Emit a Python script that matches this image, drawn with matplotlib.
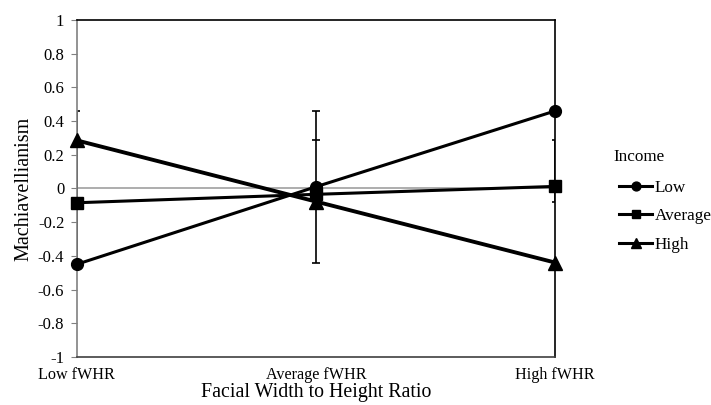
import matplotlib.pyplot as plt

plt.rcParams['font.family'] = ['Liberation Serif', 'DejaVu Serif']

# categories and series values
conditions = ['Low fWHR', 'Average fWHR', 'High fWHR']
low_income = [-0.45, 0.01, 0.46]
avg_income = [-0.085, -0.035, 0.012]
high_income = [0.285, -0.078, -0.44]

# error bar ends (bottom, top) at each condition
err_bottom = [-0.45, -0.44, -0.083]
err_top = [0.46, 0.46, 0.285]
err_mid_cap = [None, 0.29, None]

fig = plt.figure(figsize=(7.11, 4.05), dpi=100)
ax = fig.add_axes([0.108, 0.1185, 0.673, 0.8325])

x = list(range(len(conditions)))

ax.axhline(0, color='#a0a0a0', lw=1.2, zorder=1)

# error bars
for xi, b, t, m in zip(x, err_bottom, err_top, err_mid_cap):
    ax.vlines(xi, b, t, color='black', lw=1.2, zorder=2)
    caps = [b, t] + ([m] if m is not None else [])
    ax.hlines(caps, xi - 0.015, xi + 0.015, color='black', lw=1.2, zorder=2)

ax.plot(x, low_income, color='black', lw=2.2, marker='o', ms=8.5, label='Low', zorder=4, clip_on=False)
ax.plot(x, avg_income, color='black', lw=2.2, marker='s', ms=8.5, label='Average', zorder=4, clip_on=False)
ax.plot(x, high_income, color='black', lw=2.8, marker='^', ms=9.5, label='High', zorder=4, clip_on=False)

ax.set_xlim(0, 2)
ax.set_ylim(-1, 1)
ax.set_yticks([-1, -0.8, -0.6, -0.4, -0.2, 0, 0.2, 0.4, 0.6, 0.8, 1])
ax.set_yticklabels(['-1', '-0.8', '-0.6', '-0.4', '-0.2', '0', '0.2', '0.4', '0.6', '0.8', '1'])
ax.set_xticks(x)
ax.set_xticklabels(conditions)
ax.tick_params(axis='y', labelsize=12, length=4, color='#808080', direction='out', pad=5)
ax.tick_params(axis='x', labelsize=11.6, length=0, pad=7)

ax.spines['left'].set_color('#808080')
ax.spines['bottom'].set_color('#404040')
ax.spines['top'].set_color('black')
ax.spines['right'].set_color('black')
for s in ax.spines.values():
    s.set_linewidth(1.2)

ax.set_xlabel('Facial Width to Height Ratio', fontsize=14.3, labelpad=0)
ax.set_ylabel('Machiavellianism', fontsize=14.5, labelpad=3)

fig.text(613 / 711, 1 - 157 / 405, 'Income', fontsize=12.3, ha='left', va='center')
leg = ax.legend(loc='upper left', bbox_to_anchor=(619 / 711, 1 - 180 / 405),
                bbox_transform=fig.transFigure, borderpad=0, borderaxespad=0,
                frameon=False, fontsize=12.3,
                handlelength=1.95, handletextpad=0.15, labelspacing=0.72, markerscale=0.75)
for h in leg.legend_handles:
    h.set_linewidth(2.2)

fig.savefig('out.png', dpi=100)
